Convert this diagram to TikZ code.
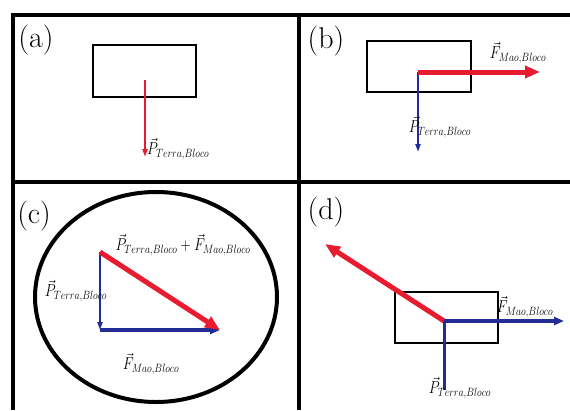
\documentclass[tikz,border=0pt]{standalone}
\usepackage{amsmath,amssymb}
\usepackage{graphicx}
\usetikzlibrary{arrows.meta}
\DeclareMathSizes{16}{16}{12.5}{10}
\definecolor{vred}{RGB}{232,28,48}
\definecolor{vblue}{RGB}{34,44,150}
\newcommand{\vlabel}[1]{\scalebox{0.82}[1]{$#1$}}

\begin{document}
\begin{tikzpicture}[x=1pt,y=-1pt,
    frame/.style={line width=4pt},
    block/.style={line width=2pt},
    forcebig/.style={vred,line width=5pt,-{Triangle[length=15pt,width=12pt]}},
    forcered/.style={vred,line width=2.5pt,-{Triangle[length=8pt,width=5pt]}},
    forceblue/.style={vblue,line width=2pt,-{Triangle[length=8pt,width=5pt]}},
    forcebluew/.style={vblue,line width=3.5pt,-{Triangle[length=10pt,width=8pt]}},
    tag/.style={font=\fontsize{30}{34}\selectfont,inner sep=0pt},
    vlab/.style={font=\fontsize{16}{18}\selectfont,inner sep=0pt}]
  \useasboundingbox (0,0) rectangle (570,410);
  % Frame
  \draw[frame] (13,410) -- (13,15) -- (570,15);
  \draw[frame] (13,182) -- (570,182);
  \draw[frame] (299,15) -- (299,410);
  % Panel labels
  \node[tag] (ta) at (36,40) {(a)};
  \node[tag] (tb) at (326,41) {(b)};
  \node[tag] (tc) at (34,216) {(c)};
  \node[tag] (td) at (326,212) {(d)};
  % Panel (a): weight only
  \draw[block] (93,45) rectangle (196,97);
  \coordinate (oa) at (145,80);
  \coordinate (pa) at (145,157);
  \draw[forcered] (oa) -- (pa);
  \node[vlab,anchor=west] (lpa) at (147,149) {\vlabel{\vec{P}_{Terra,Bloco}}};
  % Panel (b): weight and hand force
  \draw[block] (367,41) rectangle (471,92);
  \coordinate (ob) at (418,72);
  \coordinate (fb) at (540,72);
  \coordinate (pb) at (418,152);
  \draw[forceblue] (ob) -- (pb);
  \draw[forcebig] (ob) -- (fb);
  \node[vlab] (lfb) at (518,53) {\vlabel{\vec{F}_{Mao,Bloco}}};
  \node[vlab] (lpb) at (440,127) {\vlabel{\vec{P}_{Terra,Bloco}}};
  % Panel (c): vector sum
  \draw[frame] (156,297) ellipse [x radius=121pt,y radius=105pt];
  \coordinate (c0) at (100,252);
  \coordinate (c1) at (100,330);
  \coordinate (c2) at (220,330);
  \draw[forceblue] (c0) -- (c1);
  \draw[forcebluew] (c1) -- (c2);
  \draw[forcebig] (c0) -- (c2);
  \node[vlab] (lsum) at (183,245) {\vlabel{\vec{P}_{Terra,Bloco}+\vec{F}_{Mao,Bloco}}};
  \node[vlab] (lpc) at (76,291) {\vlabel{\vec{P}_{Terra,Bloco}}};
  \node[vlab] (lfc) at (151,364) {\vlabel{\vec{F}_{Mao,Bloco}}};
  % Panel (d): resultant opposite
  \draw[block] (395,292) rectangle (498,343);
  \coordinate (od) at (444,321);
  \coordinate (rd) at (325,244);
  \coordinate (fd) at (564,321);
  \coordinate (pd) at (444,390);
  \draw[forcebig] (od) -- (rd);
  \draw[forcebluew] (od) -- (fd);
  \draw[vblue,line width=3pt] (od) -- (pd);
  \node[vlab] (lfd) at (525,307) {\vlabel{\vec{F}_{Mao,Bloco}}};
  \node[vlab] (lpd) at (460,388) {\vlabel{\vec{P}_{Terra,Bloco}}};
\end{tikzpicture}
\end{document}
